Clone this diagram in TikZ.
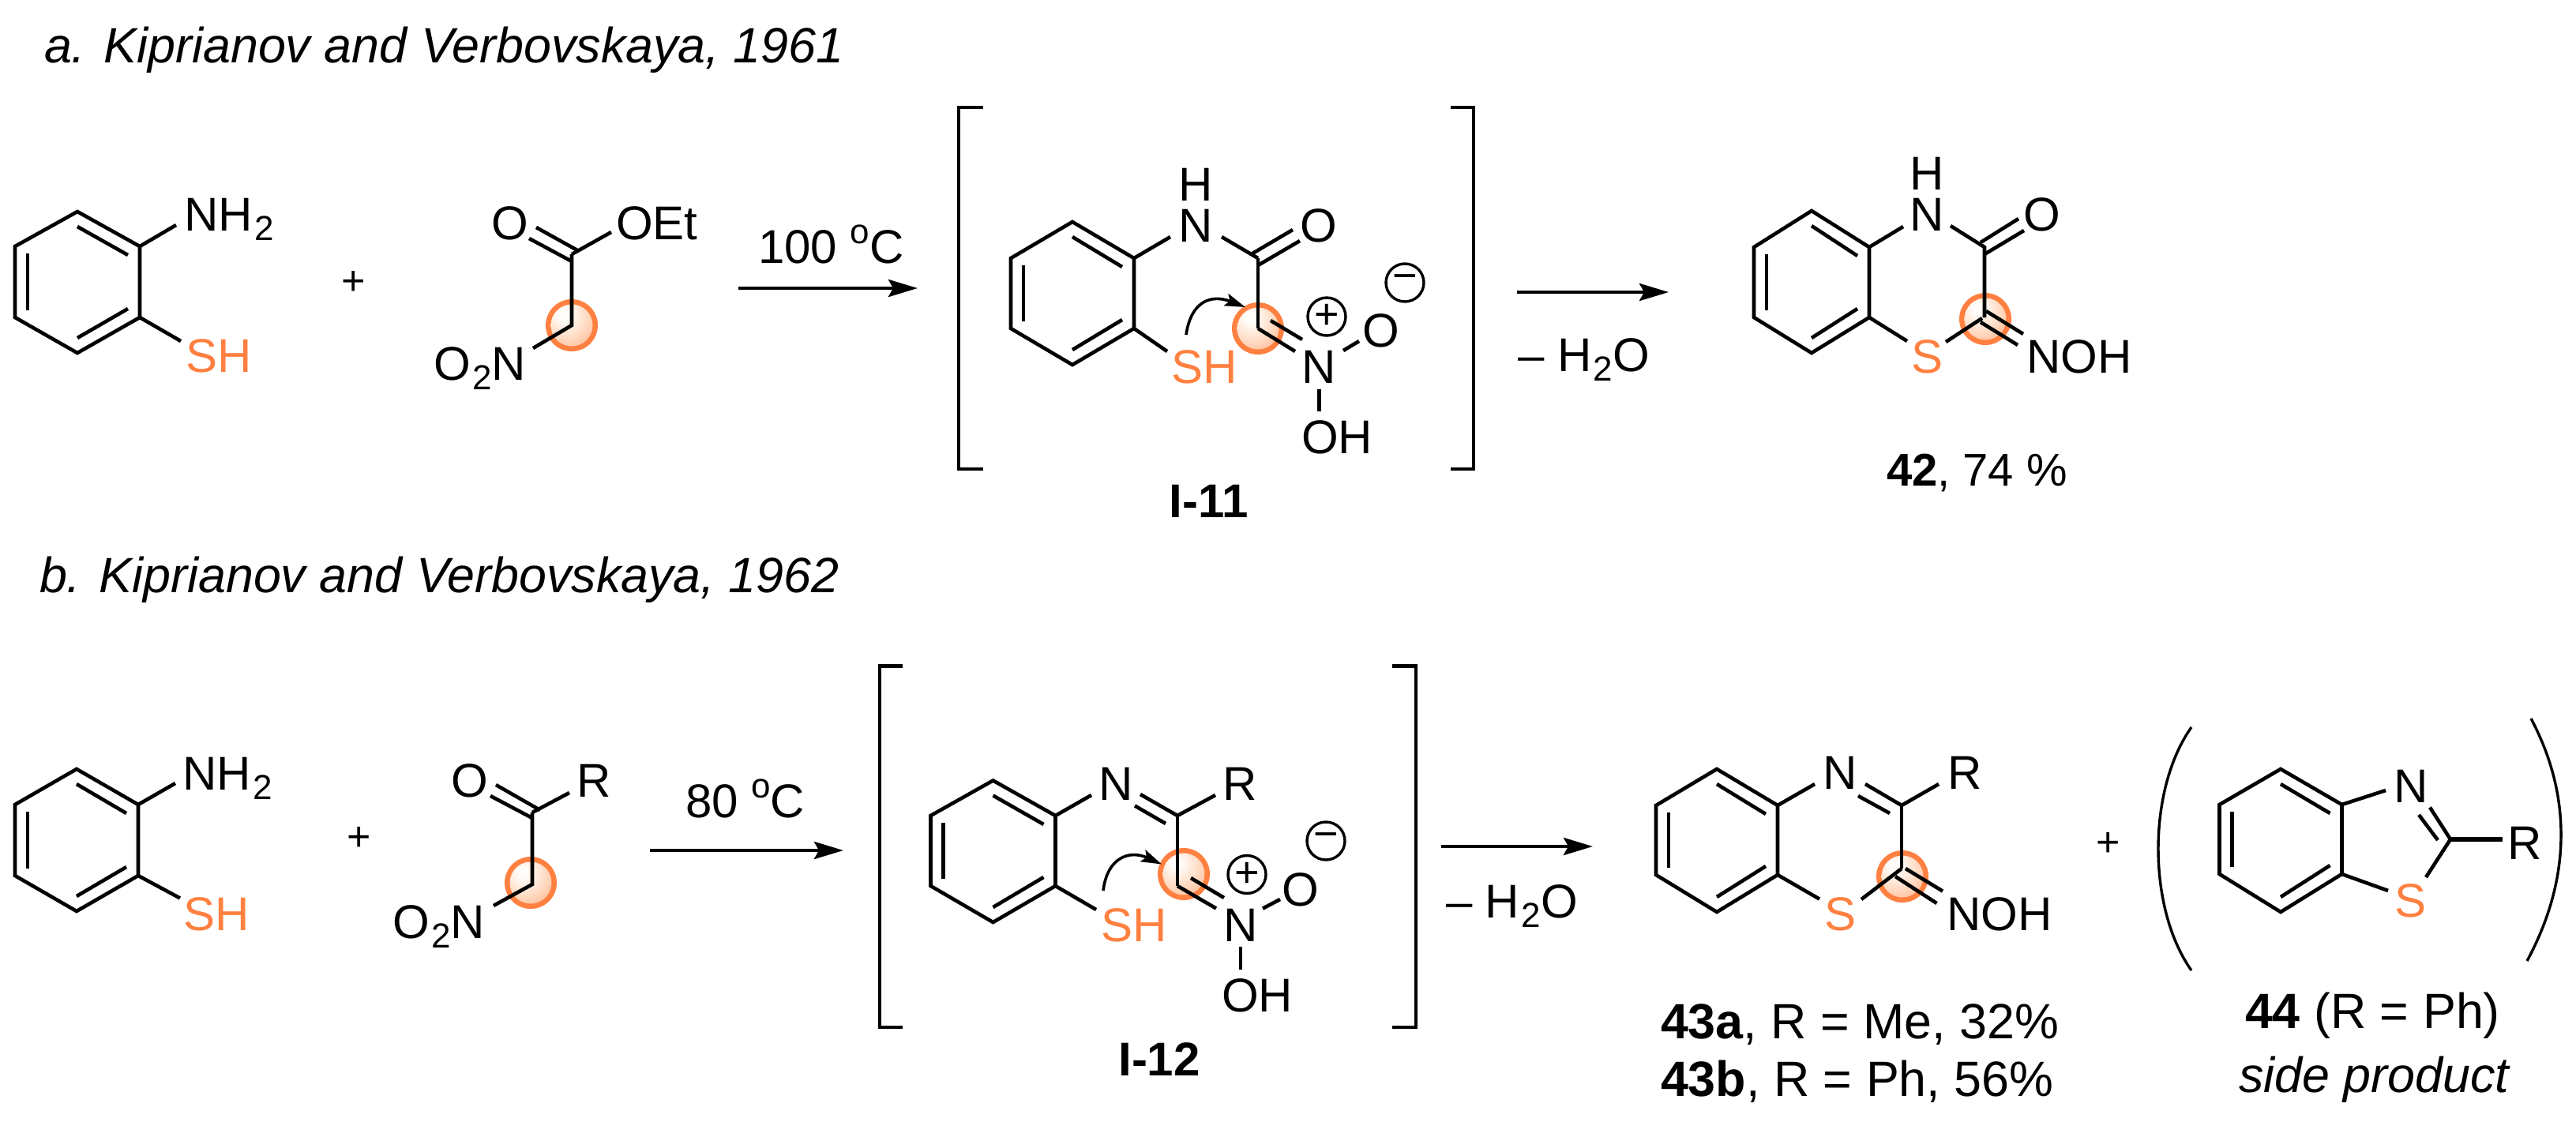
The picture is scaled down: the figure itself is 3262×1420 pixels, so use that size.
\documentclass[tikz,border=0pt]{standalone}
\usepackage{fontspec}
\setmainfont{Liberation Sans}
\usetikzlibrary{arrows.meta}
\definecolor{orng}{RGB}{255,128,64}
\pgfdeclareradialshading{spot}{\pgfpoint{-10bp}{14bp}}{%
  rgb(0bp)=(1,1,1); rgb(8bp)=(1,0.98,0.96); rgb(28bp)=(1,0.84,0.74); rgb(48bp)=(1,0.66,0.48); rgb(70bp)=(1,0.55,0.30); rgb(100bp)=(1,0.55,0.30)}
\newcommand\lowtwo{\kern1.2pt\raisebox{-6pt}{\fontsize{22}{22}\selectfont 2}}
\newcommand\upo{\raisebox{12.5pt}{\fontsize{22}{22}\selectfont o}}
\newcommand\cdn[3]{\coordinate (#1) at (#2,#3);}
\newcommand\spotat[1]{%
  \fill[orng] (#1) circle[radius=33];
  \shade[shading=spot] (#1) circle[radius=26.5];}
\newcommand\benz[7]{%
  \pgfmathsetmacro\xLft{#2-#4}\pgfmathsetmacro\xRgt{#2+#4}%
  \cdn{#1t}{#2}{#3}\cdn{#1ur}{\xRgt}{#5}\cdn{#1lr}{\xRgt}{#6}\cdn{#1b}{#2}{#7}\cdn{#1ll}{\xLft}{#6}\cdn{#1ul}{\xLft}{#5}%
  \cdn{#1pa}{#2}{#3+19}\cdn{#1pb}{\xRgt-15}{#5+11}%
  \cdn{#1qa}{#2}{#7-19}\cdn{#1qb}{\xRgt-15}{#6-11}%
  \cdn{#1sa}{\xLft+16}{#5+9}\cdn{#1sb}{\xLft+16}{#6-9}%
  \draw[bond] (#1t)--(#1ur)--(#1lr)--(#1b)--(#1ll)--(#1ul)--cycle;
  \draw[bond] (#1pa)--(#1pb);\draw[bond] (#1qa)--(#1qb);\draw[bond] (#1sa)--(#1sb);}
\tikzset{
  bond/.style={line width=2.3pt,black,line join=miter},
  brk/.style={line width=2.3pt,black,line join=miter},
  paren/.style={line width=1.7pt,black},
  arw/.style={line width=2.1pt,black,-{Stealth[length=18.5pt,width=11pt,inset=3pt]}},
  curly/.style={line width=1.8pt,black,-{Stealth[length=13pt,width=8pt,inset=2.5pt]}},
  lab/.style={inner sep=0pt,outer sep=0pt,font=\fontsize{30}{30}\selectfont,anchor=base west},
  labc/.style={lab,anchor=base},
  labw/.style={lab,font=\fontsize{31.4}{31.4}\selectfont},
  org/.style={text=orng},
  chg/.style={circle,draw=black,line width=1.7pt,minimum size=24pt,inner sep=0pt,font=\fontsize{27}{27}\selectfont}
}
\begin{document}
\begin{tikzpicture}[x=0.5pt,y=-0.5pt]
\path[use as bounding box,fill=white] (0,0) rectangle (3262,1420);
% ---- titles
\node[labw] (ta) at (56,79) {\itshape a. Kiprianov and Verbovskaya, 1961};
\node[labw] (tb) at (50,750) {\itshape b. Kiprianov and Verbovskaya, 1962};
% ---- row a: aminothiophenol
\benz{ra}{98}{268}{79}{312}{402}{447}
\node[lab] (an) at (233,292) {NH\lowtwo};
\node[lab,org] (as) at (235,471) {SH};
\cdn{ane}{223}{285}\cdn{ase}{229}{432}
\draw[bond] (raur)--(ane);\draw[bond] (ralr)--(ase);
\node[labc,font=\fontsize{26}{26}\selectfont] (pa) at (448,373) {+};
% ---- row a: nitroester
\cdn{ec}{724}{322}\cdn{ech}{724}{412}\spotat{ech}
\node[labc] (eo) at (646,303) {O};
\node[lab] (eoet) at (780,303) {OEt};
\node[lab] (eno) at (549,481) {O\lowtwo N};
\cdn{eoe}{774}{294}\cdn{ene}{675}{441}
\cdn{edaa}{670}{302}\cdn{edab}{724}{331}\cdn{edba}{679}{288}\cdn{edbb}{733}{318}
\draw[bond] (ec)--(ech)--(ene);\draw[bond] (ec)--(eoe);
\draw[bond] (edaa)--(edab);\draw[bond] (edba)--(edbb);
% ---- arrow a1
\node[lab] (ca) at (960,333) {100 \upo C};
\cdn{a1s}{935}{365}\cdn{a1e}{1162}{365}
\draw[arw] (a1s)--(a1e);
% ---- brackets a
\cdn{bla}{1245}{136}\cdn{blb}{1214}{136}\cdn{blc}{1214}{594}\cdn{bld}{1245}{594}
\draw[brk] (bla)--(blb)--(blc)--(bld);
\cdn{bra}{1837}{136}\cdn{brb}{1866}{136}\cdn{brc}{1866}{594}\cdn{brd}{1837}{594}
\draw[brk] (bra)--(brb)--(brc)--(brd);
% ---- I-11
\cdn{ic}{1593}{327}\cdn{ict}{1593}{416}\spotat{ict}
\benz{rb}{1358}{281}{78}{327}{416}{462}
\node[labc] (in) at (1514,306) {N};
\node[labc] (ih) at (1514,254) {H};
\node[labc] (io) at (1670,306) {O};
\node[labc] (inp) at (1670.5,485) {N};
\node[labc] (ion) at (1749,439) {O};
\node[lab] (ioh) at (1648,574) {OH};
\node[lab,org] (ish) at (1483,485) {SH};
\node[chg] (ipl) at (1680,401) {+};
\node[chg] (imi) at (1779,358) {−};
\cdn{ine}{1482}{300}\cdn{inf}{1547}{300}
\draw[bond] (rbur)--(ine);\draw[bond] (inf)--(ic);
\cdn{idaa}{1586}{321}\cdn{idab}{1637}{291}\cdn{idba}{1593}{336}\cdn{idbb}{1646}{305}
\draw[bond] (idaa)--(idab);\draw[bond] (idba)--(idbb);
\draw[bond] (ic)--(ict);
\cdn{ieaa}{1640}{445}\cdn{ieba}{1609}{406}\cdn{iebb}{1649}{430}
\draw[bond] (ict)--(ieaa);\draw[bond] (ieba)--(iebb);
\cdn{ioa}{1701}{444}\cdn{iob}{1721}{432}\draw[bond] (ioa)--(iob);
\cdn{iha}{1670.5}{493}\cdn{ihb}{1670.5}{521}\draw[bond] (iha)--(ihb);
\cdn{ise}{1478}{445}\draw[bond] (rblr)--(ise);
\cdn{ica}{1502}{424}\cdn{icb}{1577}{389}
\draw[curly] (ica) .. controls (1508,382) and (1533,372) .. (icb);
\node[labc] (ilab) at (1531,655) {\bfseries I-11};
% ---- arrow a2
\cdn{a2s}{1921}{370}\cdn{a2e}{2113}{370}
\draw[arw] (a2s)--(a2e);
\node[lab] (wa) at (1922,470) {– H\lowtwo O};
% ---- 42
\cdn{pc}{2513}{313}\cdn{pct}{2513}{402}\spotat{2514,404}
\benz{rc}{2294}{267}{73}{313}{402}{447}
\node[labc] (pn) at (2440,292) {N};
\node[labc] (ph) at (2440,240) {H};
\node[labc] (po) at (2586,292) {O};
\node[labc,org] (pss) at (2440,472) {S};
\node[lab] (pnoh) at (2566,472) {NOH};
\cdn{pne}{2410}{287}\cdn{pnf}{2470}{286}
\draw[bond] (rcur)--(pne);\draw[bond] (pnf)--(pc)--(pct);
\cdn{pdaa}{2508}{307}\cdn{pdab}{2556}{277}\cdn{pdba}{2513}{322}\cdn{pdbb}{2563}{292}
\draw[bond] (pdaa)--(pdab);\draw[bond] (pdba)--(pdbb);
\cdn{psa}{2510}{403}\cdn{psb}{2464}{433}\cdn{psc}{2415}{432}
\draw[bond] (psa)--(psb);\draw[bond] (rclr)--(psc);
\cdn{pxaa}{2515}{394}\cdn{pxab}{2562}{423}\cdn{pxba}{2508}{408}\cdn{pxbb}{2555}{437}
\draw[bond] (pxaa)--(pxab);\draw[bond] (pxba)--(pxbb);
\node[lab,font=\fontsize{29}{29}\selectfont] (plab) at (2389,615) {\bfseries 42\mdseries, 74 \%};
% ---- row b: aminothiophenol
\benz{rd}{97}{974}{78}{1019}{1109}{1154}
\node[lab] (bn) at (231,1000) {NH\lowtwo};
\node[lab,org] (bs) at (232,1178) {SH};
\cdn{bne}{222}{992}\cdn{bse}{228}{1137.5}
\draw[bond] (rdur)--(bne);\draw[bond] (rdlr)--(bse);
\node[labc,font=\fontsize{26}{26}\selectfont] (pb) at (455,1077) {+};
% ---- row b: nitroketone
\cdn{kc}{674}{1029}\cdn{kch}{674}{1120}\spotat{672,1118}
\node[labc] (ko) at (595,1009) {O};
\node[lab] (kr) at (730,1009) {R};
\node[lab] (kno) at (497,1188) {O\lowtwo N};
\cdn{kre}{721}{1004}\cdn{kne}{625}{1147}
\cdn{kdaa}{628}{994}\cdn{kdab}{684}{1026}\cdn{kdba}{621}{1008}\cdn{kdbb}{674}{1036}
\draw[bond] (kc)--(kch)--(kne);\draw[bond] (kc)--(kre);
\draw[bond] (kdaa)--(kdab);\draw[bond] (kdba)--(kdbb);
\node[lab] (cb) at (868,1035) {80 \upo C};
\cdn{b1s}{823}{1077}\cdn{b1e}{1068}{1077}
\draw[arw] (b1s)--(b1e);
% ---- brackets b
\cdn{cla}{1143}{843.5}\cdn{clb}{1114}{843.5}\cdn{clc}{1114}{1301}\cdn{cld}{1143}{1301}
\draw[brk] (cla)--(clb)--(clc)--(cld);
\cdn{cra}{1763}{843.5}\cdn{crb}{1793}{843.5}\cdn{crc}{1793}{1301}\cdn{crd}{1763}{1301}
\draw[brk] (cra)--(crb)--(crc)--(crd);
% ---- I-12
\cdn{jc}{1491}{1033}\cdn{jct}{1491}{1122}\spotat{1499,1107}
\benz{re}{1257.5}{988.5}{79}{1033}{1122}{1168}
\node[labc] (jn) at (1413,1013.5) {N};
\node[lab] (jr) at (1548,1013.5) {R};
\node[labc] (jnp) at (1571,1192) {N};
\node[labc] (jon) at (1647,1147) {O};
\node[lab] (joh) at (1547,1281) {OH};
\node[lab,org] (jsh) at (1394,1192) {SH};
\node[chg] (jpl) at (1579,1107.5) {+};
\node[chg] (jmi) at (1679,1065) {−};
\cdn{jne}{1382}{1007}\draw[bond] (reur)--(jne);
\cdn{jdaa}{1444}{1006}\cdn{jdba}{1476}{1043}\cdn{jdbb}{1437}{1020.5}
\draw[bond] (jc)--(jdaa);\draw[bond] (jdba)--(jdbb);
\cdn{jre}{1539}{1007}\draw[bond] (jc)--(jre);
\draw[bond] (jc)--(jct);
\cdn{jeaa}{1540}{1150.5}\cdn{jeba}{1508}{1112}\cdn{jebb}{1550}{1137}
\draw[bond] (jct)--(jeaa);\draw[bond] (jeba)--(jebb);
\cdn{joa}{1599}{1150.6}\cdn{job}{1621}{1139}\draw[bond] (joa)--(job);
\cdn{jha}{1571}{1199}\cdn{jhb}{1571}{1228}\draw[bond] (jha)--(jhb);
\cdn{jse}{1388}{1152}\draw[bond] (relr)--(jse);
\cdn{jca}{1397}{1128}\cdn{jcb}{1471}{1094.5}
\draw[curly] (jca) .. controls (1402,1086) and (1430,1076) .. (jcb);
\node[labc] (jlab) at (1468,1362.5) {\bfseries I-12};
% ---- arrow b2
\cdn{b2s}{1825}{1072}\cdn{b2e}{2017}{1072}
\draw[arw] (b2s)--(b2e);
\node[lab] (wb) at (1831,1162) {– H\lowtwo O};
% ---- 43
\cdn{qc}{2408}{1020}\cdn{qct}{2408}{1100}\spotat{2409,1110}
\benz{rf}{2174}{974}{77}{1020}{1108}{1155}
\node[labc] (qn) at (2330,999) {N};
\node[lab] (qr) at (2466,999) {R};
\node[labc,org] (qs) at (2330,1178) {S};
\node[lab] (qnoh) at (2465,1178) {NOH};
\cdn{qne}{2298}{993}\draw[bond] (rfur)--(qne);
\cdn{qdaa}{2362}{993}\cdn{qdba}{2393}{1030}\cdn{qdbb}{2353}{1008}
\draw[bond] (qc)--(qdaa);\draw[bond] (qdba)--(qdbb);
\cdn{qre}{2455}{993}\draw[bond] (qc)--(qre);
\draw[bond] (qc)--(qct);
\cdn{qsa}{2357}{1139}\draw[bond] (qct)--(qsa);
\cdn{qxaa}{2400}{1110}\cdn{qxab}{2452.5}{1144}\cdn{qxba}{2413}{1100}\cdn{qxbb}{2460}{1128.6}
\draw[bond] (qxaa)--(qxab);\draw[bond] (qxba)--(qxbb);
\cdn{qse}{2304}{1138.6}\draw[bond] (rflr)--(qse);
\node[labw] (qla) at (2103,1315) {\bfseries 43a\mdseries, R = Me, 32\%};
\node[labw] (qlb) at (2103,1388) {\bfseries 43b\mdseries, R = Ph, 56\%};
\node[labc,font=\fontsize{26}{26}\selectfont] (pc2) at (2670,1084) {+};
% ---- 44
\cdn{lpa}{2775}{921}\cdn{lpb}{2775}{1229}
\draw[paren] (lpa) .. controls (2719,1000) and (2719,1150) .. (lpb);
\cdn{rpa}{3205}{910}\cdn{rpb}{3200}{1217}
\draw[paren] (rpa) .. controls (3258,1010) and (3255,1115) .. (rpb);
\benz{rg}{2888}{974}{77.5}{1019}{1107}{1155}
\node[labc] (un) at (3053,1016) {N};
\node[labc,org] (us) at (3052,1161) {S};
\node[lab] (ur) at (3175,1088) {R};
\cdn{ucc}{3103}{1063}\cdn{une}{3021}{1001}\cdn{use}{3024}{1128}\cdn{ure}{3169}{1063}\cdn{uss}{3072}{1111}
\draw[bond] (rgur)--(une);\draw[bond] (rglr)--(use);
\draw[bond,line width=3pt] (ucc)--(ure);\draw[bond] (ucc)--(uss);
\cdn{udaa}{3077}{1022.5}\cdn{udba}{3087}{1064}\cdn{udbb}{3063}{1032}
\draw[bond] (ucc)--(udaa);\draw[bond] (udba)--(udbb);
\node[labw] (ula) at (2843,1302) {\bfseries 44\mdseries{} (R = Ph)};
\node[labw] (ulb) at (2835,1383) {\itshape side product};
\end{tikzpicture}
\end{document}
